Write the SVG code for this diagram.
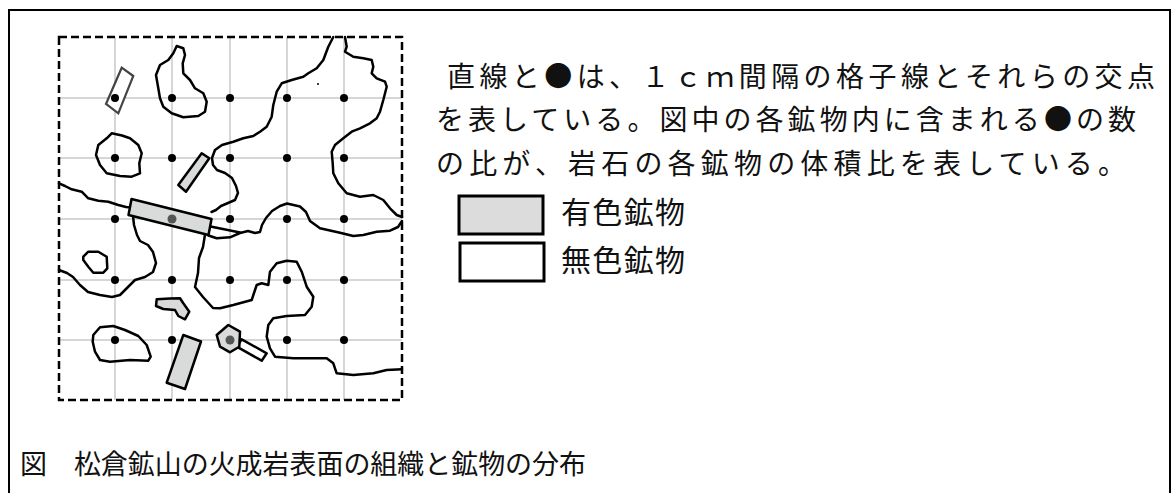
<svg xmlns="http://www.w3.org/2000/svg" width="1173" height="493" viewBox="0 0 1173 493">
  <style>
    .frame { fill: none; stroke: #000; stroke-width: 2; }
    .grid line { stroke: #c8c8c8; stroke-width: 1.5; }
    .box { fill: none; stroke: #000; stroke-width: 2.5; stroke-dasharray: 8 4; }
    .edge { fill: none; stroke: #000; stroke-width: 2.5; stroke-linejoin: round; stroke-linecap: round; }
    .dark { fill: #d9dada; stroke: #000; stroke-width: 2.5; stroke-linejoin: round; }
    .light { fill: #fff; stroke: #000; stroke-width: 2.5; stroke-linejoin: round; }
    .thin { fill: #fff; stroke: #444; stroke-width: 2.2; }
    .pt { fill: #000; }
    .pt-in { fill: #555; }
    .txt { font-family: "Noto Sans CJK JP", sans-serif; fill: #111; }
  </style>

  <!-- outer frame (open at the bottom) -->
  <path class="frame" d="M9,493 V10 H1170 V493"/>

  <!-- 1 cm grid -->
  <g id="grid" class="grid">
    <line x1="115" y1="37" x2="115" y2="400"/>
    <line x1="172" y1="37" x2="172" y2="400"/>
    <line x1="230" y1="37" x2="230" y2="400"/>
    <line x1="287" y1="37" x2="287" y2="400"/>
    <line x1="344" y1="37" x2="344" y2="400"/>
    <line x1="59" y1="98" x2="402" y2="98"/>
    <line x1="59" y1="158" x2="402" y2="158"/>
    <line x1="59" y1="219" x2="402" y2="219"/>
    <line x1="59" y1="280" x2="402" y2="280"/>
    <line x1="59" y1="340" x2="402" y2="340"/>
  </g>

  <!-- grain boundaries -->
  <g id="boundaries">
    <path class="edge" d="M176.7,46 L183.3,48.3 L185,55 L182.7,63.3 L183.3,73.3 L190,80 L195,88.3 L203.3,93.3 L206.7,101.7 L205,111.7 L198.3,116 L183.3,117.3 L171.7,113.3 L163.3,106.7 L160,98.3 L158.3,88.3 L156,75 L160,65 L168.3,60 L173.3,53.3 Z"/>
    <path class="edge" d="M111.7,133.3 L122,135.5 L130,138.3 L138.3,145 L141.7,153.3 L139.3,163.3 L140,173.3 L131.7,176.7 L120,176 L106.7,173.3 L100,165 L96,155 L98.3,145 L106.7,138.3 Z"/>
    <path class="edge" d="M59,183.3 L65,186 L71.7,189.3 L81.7,191.7 L88.3,198.3 L98.3,200.7 L108.3,201.7 L118.3,205 L126,207 L131,207.5"/>
    <path class="edge" d="M133,216 L134,225 L137,235 L140,241 L148,245 L153,252 L156,263 L153,272 L145,277 L135,280 L128,287 L120,295 L112,297 L100,295 L88,292 L80,285 L73,277 L67,273 L59,270"/>
    <path class="edge" d="M83.3,256.7 L88.3,251.7 L98.3,251.7 L106.7,256.7 L107.3,268.3 L103.3,272.7 L93.3,272.7 L88.3,266.7 L83.3,260 Z"/>
    <path class="edge" d="M93.3,335 L100,327.3 L113.3,326 L125,330 L138.3,336 L146.7,345 L150.7,356.7 L148.3,360.7 L130,360 L110,361.7 L100,360 L95,351.7 L92.7,341.7 Z"/>
    <path class="edge" d="M333.3,37 L328.3,46.7 L323.3,60 L316.7,68.3 L308.3,73.3 L303.3,76.7 L291.7,80 L281.7,83.3 L276.7,91.7 L273.3,105 L271.7,116.7 L266.7,126.7 L260,131.7 L253.3,136 L243.3,138.3 L233.3,141.7 L222,145 L215,150 L212,158 L213,165 L217,170 L225,173 L232,178 L236,186 L238,193 L235,200 L228,203 L221,206 L216,210 L211.5,212"/>
    <path class="edge" d="M210.5,226.5 L240,232.5"/>
    <path class="edge" d="M208.5,235.5 L216.7,238.3 L230,237.3 L240,233 L248,231 L255,233 L260,232 L262,225 L266,218 L272,211 L280,206 L287,203.5 L300,206.5 L306,212 L310,221 L320,228.3 L340,232.7 L353.3,236 L363.3,235 L376.7,231.7 L390,230.7 L398,227 L402,221"/>
    <path class="edge" d="M345,37 L346.7,46.7 L345,51.7 L353.3,56.7 L363.3,58.3 L371.7,60 L373.3,66.7 L371.7,73.3 L376.7,78.3 L385,81.7 L386.7,86.7 L383.3,100 L380,111.7 L376.7,118.3 L370,123.3 L360,128.3 L351.7,131.7 L343.3,138.3 L335,145 L331.7,151.7 L332.7,163.3 L333.3,173.3 L338.3,183.3 L346.7,193.3 L360,196.7 L373.3,195 L383.3,200 L390,208.3 L396.7,215 L402,217"/>
    <path class="edge" d="M205,234.5 L203,247 L199,258 L198,273 L195,287 L203,297 L213,308 L220,308.3 L233.3,305 L251.7,300 L256.7,285 L261.7,283.3 L268.3,285 L270,271.7 L276.7,263.3 L286.7,260.7 L296.7,261.7 L301.7,271.7 L306.7,286.7 L313.3,296.7 L311.7,306.7 L305,315 L286.7,316 L273.3,318.3 L268.3,325 L266.7,336.7 L270,348.3 L275,356.7 L293.3,358.3 L326.7,358.3 L333.3,363.3 L336.7,373.3 L353.3,375 L373.3,373.3 L386.7,370 L402,369.3"/>
    <circle cx="318" cy="84" r="1" class="pt"/>
  </g>

  <!-- coloured and colourless crystals -->
  <g id="crystals">
    <polygon class="thin" points="121.7,67.7 133.3,76 118.3,113.3 106,104"/>
    <polygon class="dark" points="178.3,185 201.7,153.3 209.3,158.3 186,191.7"/>
    <polygon class="dark" points="131.5,199 211.5,219 208.5,235 128.5,215"/>
    <path class="dark" d="M156.7,299.3 L170,298.5 L180,298.3 L183.3,303.3 L189.3,311.7 L185,319.3 L178.3,316 L175,310 L163.3,309 L156,306 Z"/>
    <polygon class="dark" points="183.3,335 201,341.5 185,389 166.7,382.7"/>
    <polygon class="light" points="241.7,339.3 266.7,353.3 261.7,360.7 236.7,346.7"/>
    <polygon class="dark" points="228.3,325 240,331.7 239.3,346.7 230,352.3 220,346.7 216.7,335"/>
  </g>

  <!-- grid intersection points -->
  <g id="points">
    <circle class="pt" cx="115" cy="98" r="4"/><circle class="pt" cx="172" cy="98" r="4"/><circle class="pt" cx="230" cy="98" r="4"/><circle class="pt" cx="287" cy="98" r="4"/><circle class="pt" cx="344" cy="98" r="4"/>
    <circle class="pt" cx="115" cy="158" r="4"/><circle class="pt" cx="172" cy="158" r="4"/><circle class="pt" cx="230" cy="158" r="4"/><circle class="pt" cx="287" cy="158" r="4"/><circle class="pt" cx="344" cy="158" r="4"/>
    <circle class="pt" cx="115" cy="219" r="4"/><circle class="pt-in" cx="172" cy="219" r="4.5"/><circle class="pt" cx="230" cy="219" r="4"/><circle class="pt" cx="287" cy="219" r="4"/><circle class="pt" cx="344" cy="219" r="4"/>
    <circle class="pt" cx="115" cy="280" r="4"/><circle class="pt" cx="172" cy="280" r="4"/><circle class="pt" cx="230" cy="280" r="4"/><circle class="pt" cx="287" cy="280" r="4"/><circle class="pt" cx="344" cy="280" r="4"/>
    <circle class="pt" cx="115" cy="340" r="4"/><circle class="pt" cx="172" cy="340" r="4"/><circle class="pt-in" cx="230" cy="340" r="4.5"/><circle class="pt" cx="287" cy="340" r="4"/><circle class="pt" cx="344" cy="340" r="4"/>
  </g>

  <!-- sample outline -->
  <rect id="sample" class="box" x="59" y="37" width="343" height="363"/>

  <!-- explanation -->
  <g id="note" class="txt" font-size="28">
    <text x="447" y="87" textLength="708" lengthAdjust="spacing">直線と●は、１ｃｍ間隔の格子線とそれらの交点</text>
    <text x="436" y="130" textLength="700" lengthAdjust="spacing">を表している。図中の各鉱物内に含まれる●の数</text>
    <text x="436" y="174" textLength="690" lengthAdjust="spacing">の比が、岩石の各鉱物の体積比を表している。</text>
  </g>

  <!-- legend -->
  <g id="legend-dark">
    <rect x="459" y="196" width="84" height="38" fill="#dcdcdc" stroke="#000" stroke-width="3"/>
    <text class="txt" x="561" y="223" font-size="30" textLength="124" lengthAdjust="spacing">有色鉱物</text>
  </g>
  <g id="legend-light">
    <rect x="460" y="243" width="84" height="38" fill="#fff" stroke="#000" stroke-width="3"/>
    <text class="txt" x="561" y="271" font-size="30" textLength="124" lengthAdjust="spacing">無色鉱物</text>
  </g>

  <!-- caption -->
  <text id="caption" class="txt" x="20" y="474" font-size="27" textLength="566" lengthAdjust="spacing">図　松倉鉱山の火成岩表面の組織と鉱物の分布</text>
</svg>
